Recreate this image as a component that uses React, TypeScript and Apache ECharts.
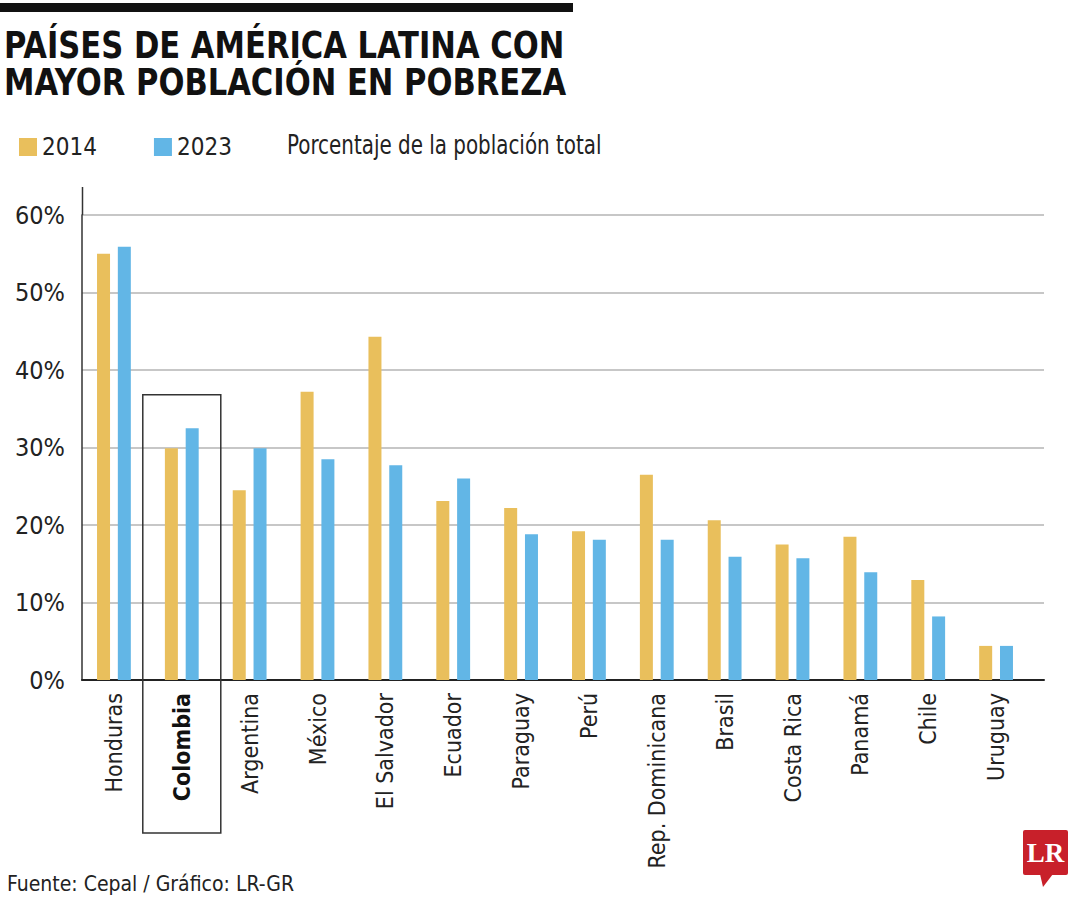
import React, { useEffect, useRef } from "react";
import * as echarts from "echarts";

const categories = [
  "Honduras", "Colombia", "Argentina", "México", "El Salvador", "Ecuador", "Paraguay",
  "Perú", "Rep. Dominicana", "Brasil", "Costa Rica", "Panamá", "Chile", "Uruguay",
];
const values2014 = [55.0, 29.9, 24.5, 37.2, 44.3, 23.1, 22.2, 19.2, 26.5, 20.6, 17.5, 18.5, 12.9, 4.4];
const values2023 = [55.9, 32.5, 29.9, 28.5, 27.7, 26.0, 18.8, 18.1, 18.1, 15.9, 15.7, 13.9, 8.2, 4.4];
const seriesNames = ["2014", "2023"];
const yTicks = { min: 0, max: 60, interval: 10 };

const FONT = "'DejaVu Sans Condensed', 'Liberation Sans Narrow', 'Noto Sans', sans-serif";
const YELLOW = "#E9BF5C";
const BLUE = "#62B6E6";

export default function App() {
  const ref = useRef<HTMLDivElement>(null);
  useEffect(() => {
    document.body.style.margin = "0";
    const chart = echarts.init(ref.current!, null, { renderer: "svg" });
    const option: any = {
      animation: false,
      backgroundColor: "#ffffff",
      textStyle: { fontFamily: FONT },
      grid: [
        { left: 82, right: 36, top: 215, bottom: 220, containLabel: false },
        { left: 80, width: 950, top: 215, bottom: 220, containLabel: false },
      ],
      legend: {
        left: 14,
        top: 130,
        itemWidth: 18,
        itemHeight: 18,
        itemGap: 57,
        icon: "rect",
        textStyle: { fontFamily: FONT, fontSize: 24, color: "#222" },
        data: seriesNames,
      },
      xAxis: [
        {
          type: "value",
          gridIndex: 0,
          min: 0,
          max: 1,
          axisLine: { show: true, lineStyle: { color: "#222", width: 2 } },
          axisTick: { show: false },
          axisLabel: { show: false },
          splitLine: { show: false },
        },
        {
          type: "category",
          gridIndex: 1,
          data: categories,
          axisLine: { show: false },
          axisTick: { show: false },
          axisLabel: {
            rotate: 90,
            interval: 0,
            margin: 13,
            fontFamily: FONT,
            fontSize: 23,
            color: "#222",
            formatter: (v: string) => (v === "Colombia" ? "{b|" + v + "}" : v),
            rich: { b: { fontFamily: FONT, fontSize: 23, fontWeight: "bold", color: "#111" } },
          },
        },
      ],
      yAxis: [
        {
          type: "value",
          gridIndex: 0,
          min: yTicks.min,
          max: yTicks.max,
          interval: yTicks.interval,
          axisLine: { show: true, lineStyle: { color: "#333", width: 1.5 } },
          axisTick: { show: false },
          axisLabel: {
            margin: 17,
            fontFamily: FONT,
            fontSize: 25,
            color: "#222",
            formatter: "{value}%",
          },
          splitLine: { show: true, lineStyle: { color: "#b4b4b4", width: 1.5 } },
        },
        {
          type: "value",
          gridIndex: 1,
          min: yTicks.min,
          max: yTicks.max,
          interval: yTicks.interval,
          show: false,
          splitLine: { show: false },
        },
      ],
      series: [
        {
          name: seriesNames[0],
          type: "bar",
          xAxisIndex: 1,
          yAxisIndex: 1,
          data: values2014,
          barWidth: 13,
          barGap: "60%",
          itemStyle: { color: YELLOW },
        },
        {
          name: seriesNames[1],
          type: "bar",
          xAxisIndex: 1,
          yAxisIndex: 1,
          data: values2023,
          barWidth: 13,
          barGap: "60%",
          itemStyle: { color: BLUE },
        },
      ],
    };
    chart.setOption(option);

    const colX = chart.convertToPixel({ xAxisIndex: 1 }, "Colombia") as number;
    const boxTop = chart.convertToPixel({ yAxisIndex: 1 }, 36.8) as number;
    const y60 = chart.convertToPixel({ yAxisIndex: 0 }, 60) as number;

    chart.setOption({
      graphic: [
        { type: "rect", shape: { x: 0, y: 3, width: 573, height: 9 }, style: { fill: "#111" } },
        {
          type: "text",
          x: 4,
          y: 27,
          scaleX: 0.895,
          style: {
            text: "PAÍSES DE AMÉRICA LATINA CON\nMAYOR POBLACIÓN EN POBREZA",
            font: `bold 38px ${FONT}`,
            fill: "#111",
            lineHeight: 37,
            verticalAlign: "top",
          },
        },
        {
          type: "text",
          x: 287,
          y: 131,
          scaleX: 0.82,
          style: {
            text: "Porcentaje de la población total",
            font: `27px ${FONT}`,
            fill: "#222",
            verticalAlign: "top",
          },
        },
        {
          type: "line",
          shape: { x1: 82.5, y1: y60 - 28, x2: 82.5, y2: y60 },
          style: { stroke: "#333", lineWidth: 1.5 },
        },
        {
          type: "rect",
          shape: { x: colX - 39, y: boxTop, width: 78, height: 833 - boxTop },
          style: { fill: "none", stroke: "#333", lineWidth: 1.5 },
          z: 10,
        },
        {
          type: "text",
          x: 7,
          y: 873,
          style: {
            text: "Fuente: Cepal / Gráfico: LR-GR",
            font: `21px ${FONT}`,
            fill: "#222",
            verticalAlign: "top",
          },
        },
        { type: "rect", shape: { x: 1023, y: 830, width: 45, height: 45, r: 2 }, style: { fill: "#C8202A" } },
        {
          type: "polygon",
          shape: { points: [[1040, 874], [1053, 874], [1043, 887]] },
          style: { fill: "#C8202A" },
        },
        {
          type: "text",
          x: 1045.5,
          y: 853,
          style: {
            text: "LR",
            font: `bold 27px 'Liberation Serif', 'DejaVu Serif', serif`,
            fill: "#ffffff",
            align: "center",
            verticalAlign: "middle",
          },
        },
      ],
    });
    return () => chart.dispose();
  }, []);
  return <div ref={ref} style={{ width: 1080, height: 900 }} />;
}
